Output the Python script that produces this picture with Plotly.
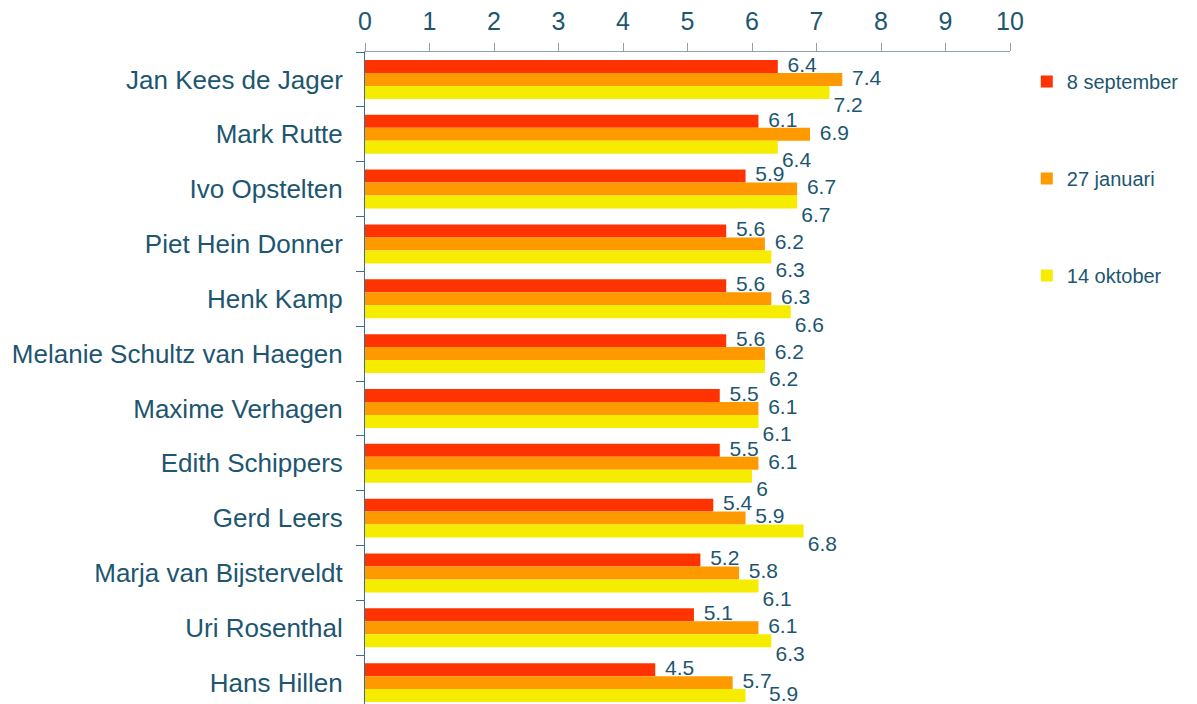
import plotly.graph_objects as go

names = ["Jan Kees de Jager", "Mark Rutte", "Ivo Opstelten", "Piet Hein Donner",
         "Henk Kamp", "Melanie Schultz van Haegen", "Maxime Verhagen",
         "Edith Schippers", "Gerd Leers", "Marja van Bijsterveldt",
         "Uri Rosenthal", "Hans Hillen"]
sep8 = [6.4, 6.1, 5.9, 5.6, 5.6, 5.6, 5.5, 5.5, 5.4, 5.2, 5.1, 4.5]
jan27 = [7.4, 6.9, 6.7, 6.2, 6.3, 6.2, 6.1, 6.1, 5.9, 5.8, 6.1, 5.7]
okt14 = [7.2, 6.4, 6.7, 6.3, 6.6, 6.2, 6.1, 6.0, 6.8, 6.1, 6.3, 5.9]
series_names = ["8 september", "27 januari", "14 oktober"]
x_ticks = list(range(0, 11))

colors = ["#FF3300", "#FF9900", "#F5EC00"]
text_color = "#1D5670"
font_family = "Arial, Liberation Sans, sans-serif"

fig = go.Figure()
series = [sep8, jan27, okt14]
for i, (nm, vals) in enumerate(zip(series_names, series)):
    fig.add_trace(go.Bar(
        y=names, x=vals, orientation="h", name=nm,
        marker=dict(color=colors[i], line=dict(width=0)),
        offsetgroup=str(i), legendgroup=str(i),
    ))
# invisible markers only serve to set the gap between bar end and label
n = len(names)
text_pos = [["middle right"] * n, ["middle right"] * n,
            ["bottom right"] * (n - 1) + ["middle right"]]
gap_size = [[14] * n, [14] * n, [5] * (n - 1) + [36]]
for i, (nm, vals) in enumerate(zip(series_names, series)):
    fig.add_trace(go.Scatter(
        y=names, x=vals, orientation="h", mode="markers+text",
        text=[("%g" % v) for v in vals], textposition=text_pos[i],
        marker=dict(size=gap_size[i], opacity=0),
        textfont=dict(size=21, color=text_color, family=font_family),
        offsetgroup=str(i), showlegend=False, cliponaxis=False,
        hoverinfo="skip",
    ))

# the page body has an 8px default margin, so the figure is 8px smaller
fig.update_layout(
    width=1189, height=696,
    margin=dict(l=357, r=187, t=44, b=0),
    paper_bgcolor="white", plot_bgcolor="white",
    barmode="group", bargap=0.29, bargroupgap=0,
    scattermode="group", scattergap=0.29,
    font=dict(family=font_family, color=text_color),
    showlegend=True,
    legend=dict(x=1.026, xanchor="left", y=0.9847, yanchor="top",
                font=dict(size=20, color=text_color),
                traceorder="grouped", tracegroupgap=68,
                bgcolor="rgba(0,0,0,0)"),
)
fig.update_xaxes(
    side="top", range=[0, 10], tickvals=x_ticks,
    ticks="outside", ticklen=8, tickcolor="#8FA0AC",
    showline=True, linecolor="#8FA0AC", linewidth=1,
    showgrid=False, zeroline=False, automargin=False,
    tickfont=dict(size=25, color=text_color),
    ticklabelstandoff=3,
)
fig.update_yaxes(
    categoryorder="array", categoryarray=names,
    range=[11.39, -0.5],
    tickson="boundaries", ticks="outside", ticklen=8, tickcolor="#3E6E88",
    showline=True, linecolor="#3E6E88", linewidth=1,
    showgrid=False, zeroline=False, automargin=False,
    tickfont=dict(size=26, color=text_color),
    ticklabelstandoff=16,
)

fig.write_html("out.html")
